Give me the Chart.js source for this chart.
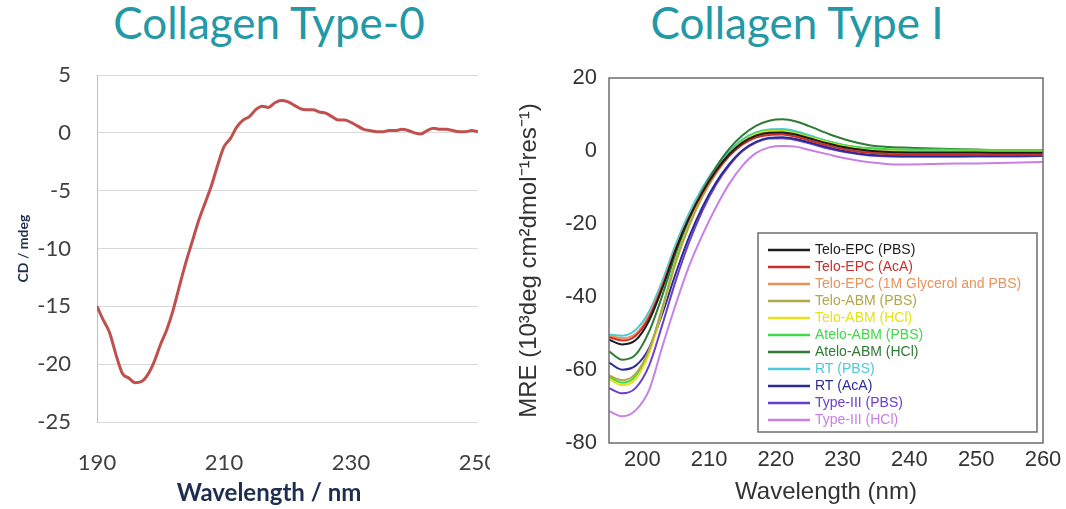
<!DOCTYPE html>
<html lang="en">
<head>
<meta charset="UTF-8">
<script src="https://cdn.jsdelivr.net/npm/chart.js"></script>
<title>Collagen CD spectra</title>
<style>
  body { margin: 0; background: #fff; width: 1066px; height: 509px; position: relative; overflow: hidden; font-family: Lato, sans-serif; }
  .title { position: absolute; top: 0; color: #2398a6; font-size: 44px; line-height: 44px; white-space: nowrap; transform: translateX(-50%); }
  #leftWrap { position: absolute; left: 0; top: 0; width: 490px; height: 509px; overflow: hidden; }
  #rightWrap { position: absolute; left: 500px; top: 0; width: 566px; height: 509px; }
  #wlLeft { position: absolute; left: 269px; top: 480px; transform: translateX(-50%); font-size: 24px; line-height: 24px; font-weight: bold; color: #1f2d50; white-space: nowrap; }
</style>
</head>
<body>
  <div class="title" style="left:269px">Collagen Type-0</div>
  <div class="title" style="left:797px">Collagen Type I</div>
  <div id="leftWrap"><canvas id="cdChart" width="520" height="509"></canvas></div>
  <div id="rightWrap"><canvas id="mreChart" width="566" height="509"></canvas></div>
  <div id="wlLeft">Wavelength / nm</div>

<script>
  // Collagen Type-0 (CD, mdeg)
  const cdWavelength = [190,191,192,193,194,195,196,197,198,199,200,201,202,203,204,205,206,207,208,209,
    210,211,212,213,214,215,216,217,218,219,220,221,222,223,224,225,226,227,228,229,
    230,231,232,233,234,235,236,237,238,239,240,241,242,243,244,245,246,247,248,249,250];
  const cdValues = [-15.0,-16.2,-17.3,-19.2,-20.8,-21.2,-21.6,-21.5,-20.9,-19.8,-18.3,-17.0,-15.3,-13.2,-11.2,-9.4,-7.6,-6.1,-4.6,-2.8,
    -1.2,-0.5,0.5,1.1,1.4,2.0,2.3,2.2,2.6,2.8,2.7,2.4,2.1,2.0,2.0,1.8,1.7,1.4,1.1,1.1,
    0.9,0.6,0.3,0.2,0.1,0.1,0.2,0.2,0.3,0.2,0.0,-0.1,0.2,0.4,0.3,0.3,0.2,0.1,0.1,0.2,0.1];

  // Collagen Type I (MRE, 10^3 deg cm2 dmol-1 res-1)
  const mreWavelength = [195,197,199,201,203,205,207,209,211,213,215,217,219,221,223,225,228,231,234,237,240,245,250,255,260];
  const teloEpcPbs = [-51.7,-53.0,-51.8,-46.5,-37.5,-27.0,-18.3,-11.2,-5.4,-0.9,2.3,4.2,5.0,5.1,4.5,3.5,2.0,0.8,0.1,-0.3,-0.4,-0.4,-0.4,-0.5,-0.5];
  const teloEpcAca = [-51.0,-51.9,-50.6,-45.6,-37.0,-27.0,-18.5,-11.5,-5.8,-1.4,1.8,3.7,4.4,4.5,3.9,2.9,1.4,0.2,-0.5,-0.9,-1.0,-1.0,-1.0,-1.0,-1.0];
  const teloEpcGly = [-50.6,-51.3,-50.1,-45.0,-36.5,-26.5,-18.0,-11.0,-5.4,-1.0,2.1,4.0,4.7,4.8,4.2,3.2,1.7,0.5,-0.3,-0.7,-0.8,-0.8,-0.8,-0.8,-0.8];
  const teloAbmPbs = [-61.5,-62.8,-61.0,-54.5,-43.0,-30.5,-20.5,-12.5,-6.2,-1.3,2.2,4.2,5.0,5.0,4.4,3.4,1.9,0.7,0.0,-0.3,-0.4,-0.4,-0.4,-0.4,-0.4];
  const teloAbmHcl = [-62.5,-64.2,-62.4,-55.5,-43.5,-30.5,-20.3,-12.2,-5.9,-1.0,2.5,4.6,5.4,5.4,4.8,3.8,2.2,1.0,0.2,-0.1,-0.2,-0.2,-0.2,-0.2,-0.2];
  const ateloAbmPbs = [-61.8,-63.5,-61.7,-54.8,-42.8,-29.8,-19.8,-11.8,-5.5,-0.6,2.9,4.9,5.6,5.6,5.0,4.0,2.5,1.4,0.8,0.5,0.4,0.4,0.3,0.3,0.3];
  const ateloAbmHcl = [-54.9,-57.2,-55.8,-49.5,-39.5,-28.0,-18.5,-10.8,-4.5,0.6,4.3,6.9,8.3,8.7,8.1,6.8,4.6,2.8,1.6,1.1,0.9,0.6,0.4,0.1,0.0];
  const rtPbs = [-50.3,-50.6,-49.0,-44.0,-35.5,-25.5,-17.0,-10.0,-4.4,0.0,3.2,5.1,5.9,6.0,5.4,4.3,2.6,1.3,0.6,0.2,0.1,0.0,-0.1,-0.2,-0.2];
  const rtAca = [-58.0,-59.9,-58.8,-54.0,-44.5,-33.5,-23.5,-15.3,-8.7,-3.6,0.2,2.5,3.6,3.8,3.3,2.4,0.9,-0.3,-1.0,-1.3,-1.4,-1.4,-1.4,-1.3,-1.3];
  const type3Pbs = [-65.0,-66.4,-64.9,-58.8,-47.5,-35.5,-25.0,-16.3,-9.3,-4.0,0.0,2.3,3.4,3.5,3.0,2.1,0.6,-0.5,-1.2,-1.5,-1.6,-1.6,-1.5,-1.5,-1.4];
  const type3Hcl = [-71.3,-72.7,-71.0,-65.5,-53.5,-42.0,-31.5,-23.0,-15.5,-9.0,-4.0,-0.6,1.0,1.4,1.2,0.3,-1.0,-2.2,-3.1,-3.6,-3.7,-3.5,-3.4,-3.2,-3.0];

  const seriesLabels = ['Telo-EPC (PBS)','Telo-EPC (AcA)','Telo-EPC (1M Glycerol and PBS)','Telo-ABM (PBS)','Telo-ABM (HCl)',
    'Atelo-ABM (PBS)','Atelo-ABM (HCl)','RT (PBS)','RT (AcA)','Type-III (PBS)','Type-III (HCl)'];
  const seriesValues = [teloEpcPbs, teloEpcAca, teloEpcGly, teloAbmPbs, teloAbmHcl, ateloAbmPbs, ateloAbmHcl, rtPbs, rtAca, type3Pbs, type3Hcl];
  const seriesColors = ['#1c1c1c','#c9302c','#e8925c','#b3a64a','#e6e21c','#3fd94a','#2f7a34','#4ccad8','#2b2b96','#6b40c9','#c880e6'];

  const toPoints = (xs, ys) => xs.map((x, i) => ({ x: x, y: ys[i] }));

  new Chart(document.getElementById('cdChart'), {
    type: 'line',
    data: {
      datasets: [{
        data: toPoints(cdWavelength, cdValues),
        borderColor: '#c0504d',
        borderWidth: 3,
        pointRadius: 0,
        cubicInterpolationMode: 'monotone'
      }]
    },
    options: {
      responsive: false,
      animation: false,
      layout: { padding: { left: 0, top: 75, right: 42, bottom: 0 } },
      plugins: { legend: { display: false }, tooltip: { enabled: false } },
      scales: {
        x: {
          type: 'linear', min: 190, max: 250,
          ticks: { stepSize: 20, color: '#404040', font: { family: 'Lato', size: 22 }, padding: 20, maxRotation: 0 },
          grid: { display: false },
          border: { display: false },
          afterFit: s => { s.height = 87; }
        },
        y: {
          min: -25, max: 5,
          ticks: { stepSize: 5, color: '#404040', font: { family: 'Lato', size: 22 }, padding: 26 },
          grid: { color: '#d9d9d9', drawTicks: false },
          border: { display: true, color: '#bfbfbf' },
          title: { display: true, text: 'CD / mdeg', color: '#1f2d50', font: { family: 'Lato', size: 14, weight: 'bold' }, padding: { top: 15, bottom: 0 } },
          afterFit: s => { s.width = 97; }
        }
      }
    }
  });

  const frameAndLegend = {
    id: 'frameAndLegend',
    afterDraw(chart) {
      const { ctx, chartArea: a } = chart;
      ctx.save();
      ctx.strokeStyle = '#6e6e6e';
      ctx.lineWidth = 1.5;
      ctx.strokeRect(a.left, a.top, a.right - a.left, a.bottom - a.top);
      // legend box inside the plot, lower right
      const w = 279, h = 199, rowH = 17;
      const x0 = a.right - 6 - w, y0 = a.bottom - 11 - h;
      ctx.fillStyle = '#fff';
      ctx.fillRect(x0, y0, w, h);
      ctx.strokeRect(x0, y0, w, h);
      ctx.font = '14px "Liberation Sans"';
      ctx.textBaseline = 'middle';
      chart.data.datasets.forEach((ds, i) => {
        const y = y0 + 17 + i * rowH;
        ctx.strokeStyle = ds.borderColor;
        ctx.lineWidth = 2.5;
        ctx.beginPath();
        ctx.moveTo(x0 + 10, y);
        ctx.lineTo(x0 + 52, y);
        ctx.stroke();
        ctx.fillStyle = ds.borderColor;
        ctx.fillText(ds.label, x0 + 57, y);
      });
      ctx.restore();
    }
  };

  new Chart(document.getElementById('mreChart'), {
    type: 'line',
    data: {
      datasets: seriesLabels.map((label, i) => ({
        label: label,
        data: toPoints(mreWavelength, seriesValues[i]),
        borderColor: seriesColors[i],
        borderWidth: 2,
        pointRadius: 0,
        cubicInterpolationMode: 'monotone'
      }))
    },
    options: {
      responsive: false,
      animation: false,
      layout: { padding: { left: 0, top: 78, right: 23, bottom: 0 } },
      plugins: { legend: { display: false }, tooltip: { enabled: false } },
      scales: {
        x: {
          type: 'linear', min: 195, max: 260,
          ticks: { stepSize: 10, includeBounds: false, color: '#333', font: { family: 'Liberation Sans', size: 22 }, padding: 4, maxRotation: 0 },
          grid: { display: false, drawTicks: false },
          border: { display: false },
          title: { display: true, text: 'Wavelength (nm)', color: '#333', font: { family: 'Liberation Sans', size: 24 }, padding: { top: 0, bottom: 2 } },
          afterFit: s => { s.height = 66; }
        },
        y: {
          min: -80, max: 20,
          ticks: { stepSize: 20, color: '#333', font: { family: 'Liberation Sans', size: 22 }, padding: 12 },
          grid: { display: false, drawTicks: false },
          border: { display: false },
          title: { display: true, text: 'MRE (10³deg cm²dmol⁻¹res⁻¹)', color: '#333', font: { family: 'Liberation Sans', size: 24 }, padding: { top: 15, bottom: 0 } },
          afterFit: s => { s.width = 109; }
        }
      }
    },
    plugins: [frameAndLegend]
  });
</script>
</body>
</html>
